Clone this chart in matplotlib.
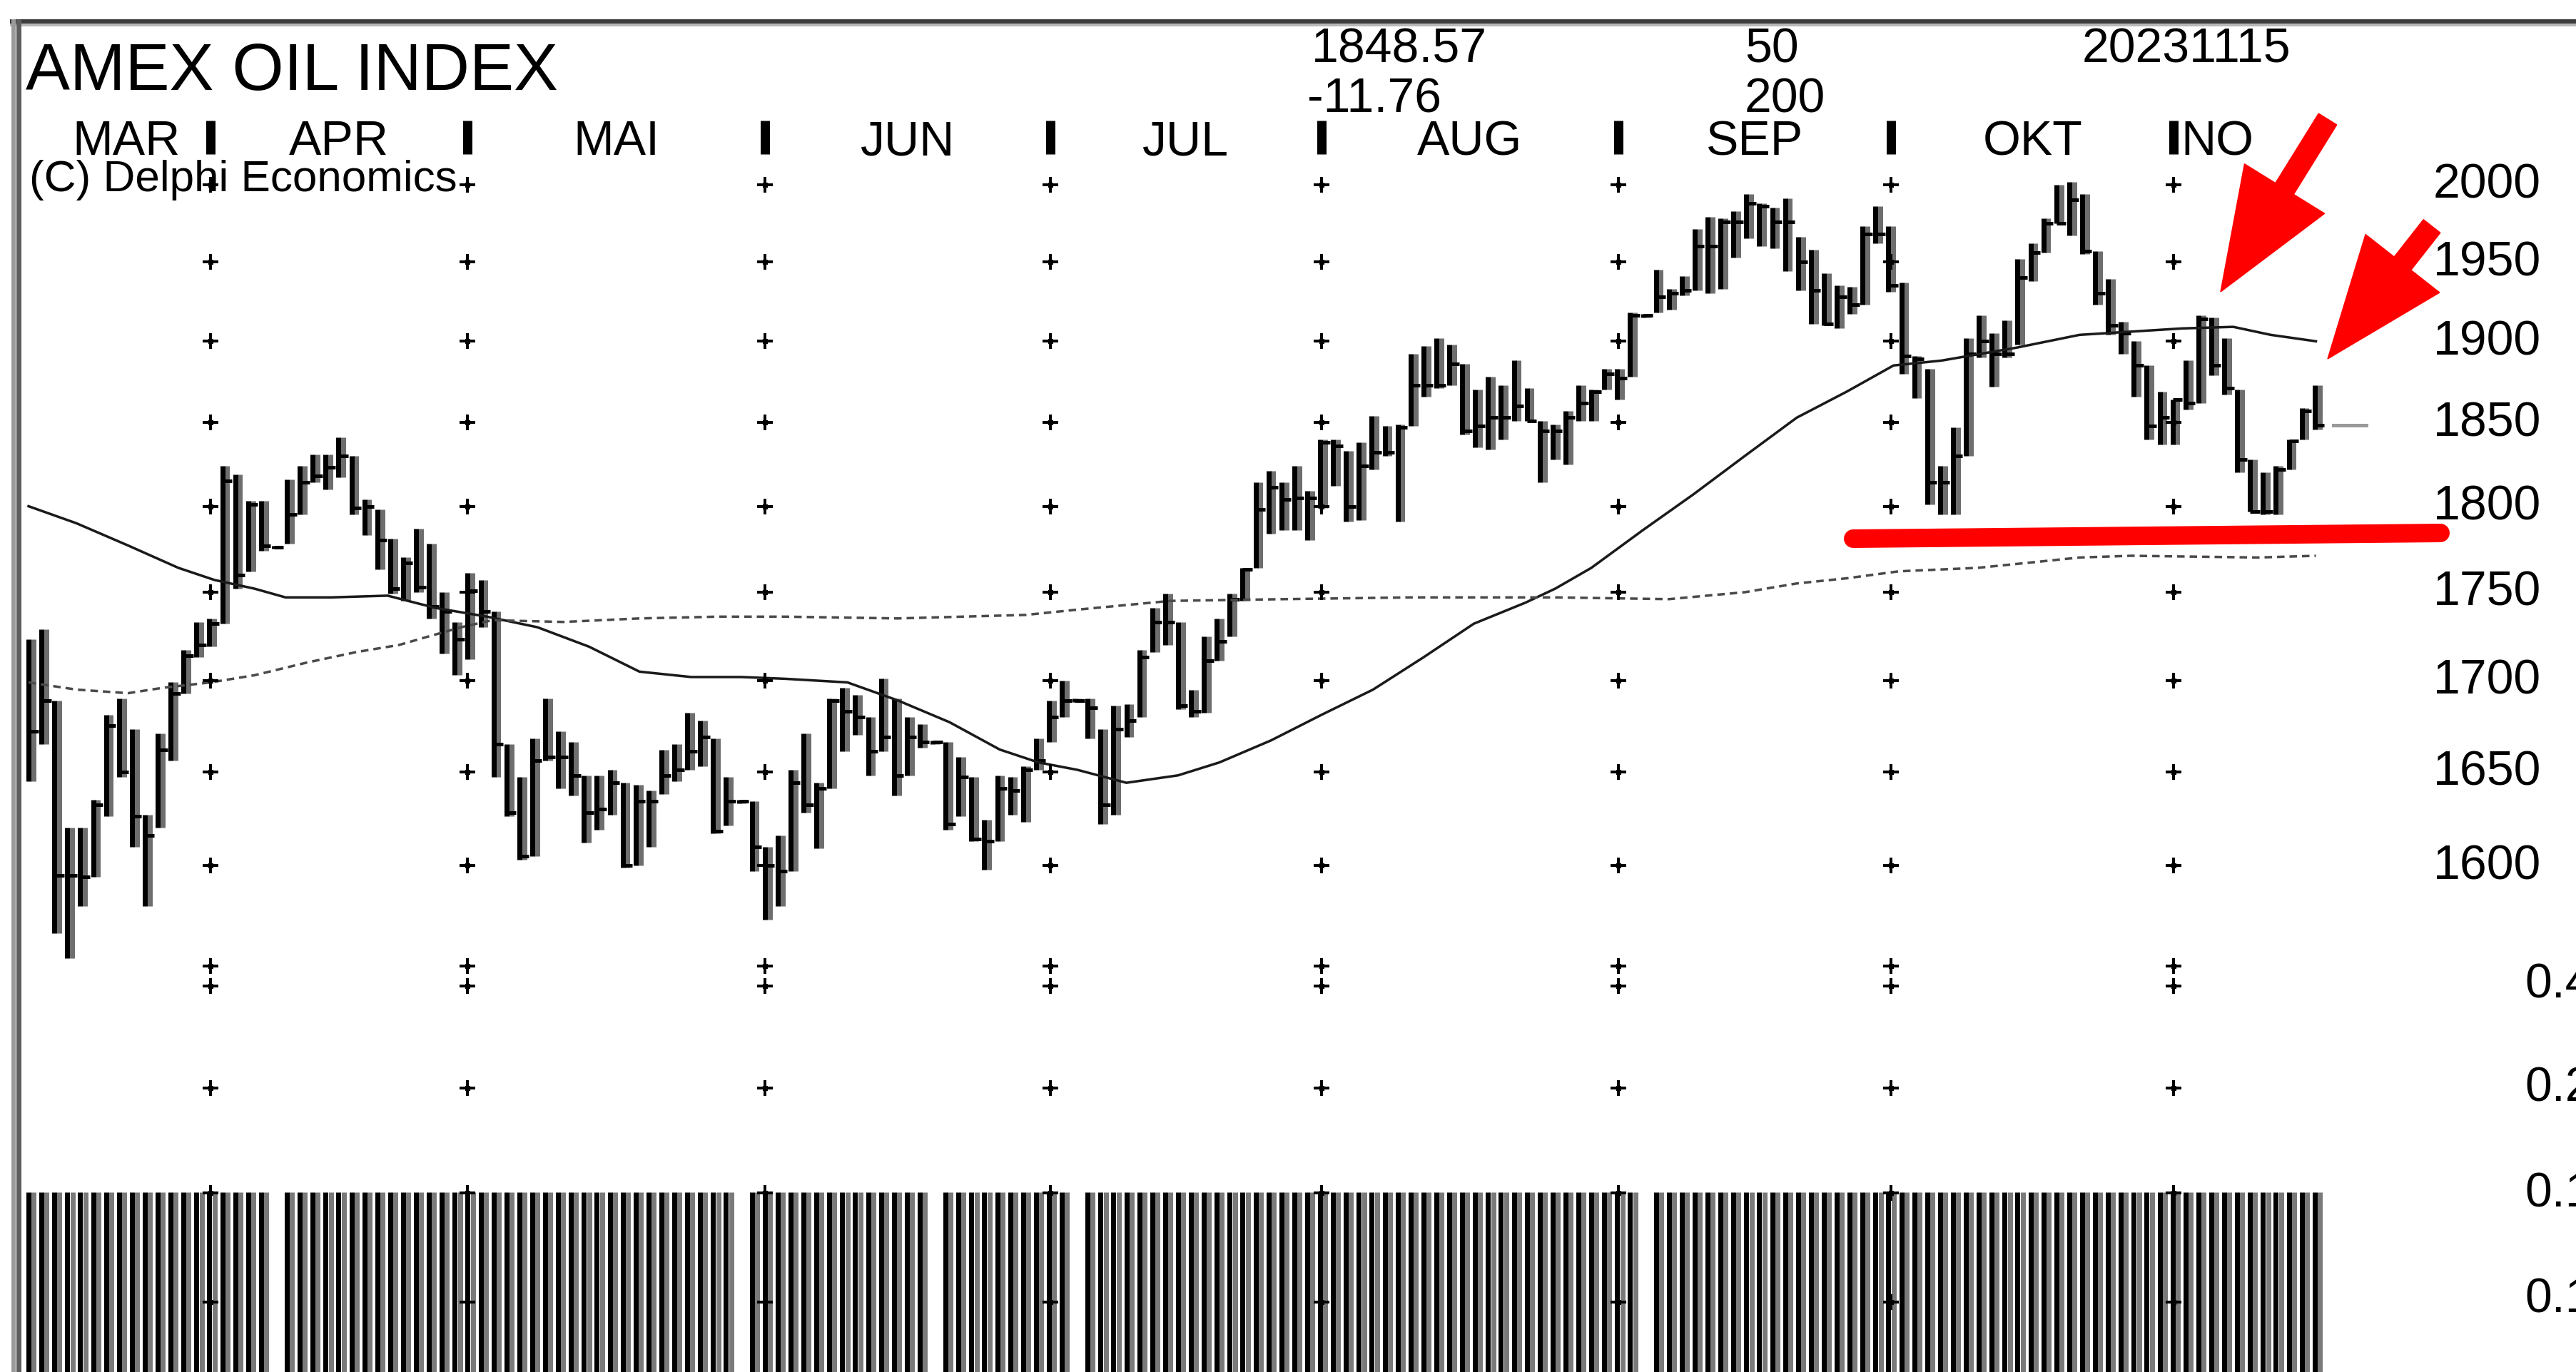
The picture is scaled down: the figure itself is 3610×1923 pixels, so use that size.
import numpy as np
import matplotlib
matplotlib.use("Agg")
import matplotlib.pyplot as plt
from matplotlib.patches import Polygon

plt.rcParams['font.family'] = ['Liberation Sans', 'DejaVu Sans']

# ---------------- data ----------------
title = "AMEX OIL INDEX"
copyright_txt = "(C) Delphi Economics"
last_close = 1848.57
last_change = -11.76
ma_periods = [50, 200]
date_str = "20231115"
months = ["MAR", "APR", "MAI", "JUN", "JUL", "AUG", "SEP", "OKT", "NO"]

highs = [1723,1729,1689,1620,1620,1635,1681,1690,1673,1627,
         1671,1699,1717,1733,1735,1824,1819,1803,1803,1777,
         1816,1824,1831,1831,1841,1830,1804,1798,1781,1770,
         1787,1778,1750,1733,1761,1757,1739,1665,1647,1668,
         1690,1672,1666,1648,1648,1651,1644,1643,1640,1662,
         1665,1682,1678,1668,1647,1635,1634,1610,1616,1651,
         1671,1644,1690,1696,1692,1680,1701,1690,1680,1676,
         1667,1666,1658,1647,1624,1648,1647,1653,1668,1689,
         1700,1690,1690,1673,1686,1687,1717,1741,1749,1733,
         1695,1725,1735,1749,1764,1814,1821,1814,1824,1809,
         1840,1840,1833,1838,1854,1848,1849,1892,1897,1902,
         1898,1886,1870,1878,1873,1888,1871,1851,1849,1857,
         1873,1870,1883,1883,1918,1917,1945,1933,1941,1971,
         1979,1978,1983,1994,1988,1985,1991,1966,1958,1943,
         1935,1934,1973,1986,1973,1937,1891,1883,1824,1847,
         1902,1916,1905,1913,1952,1962,1978,2000,2002,1994,
         1957,1939,1912,1900,1885,1869,1864,1888,1916,1915,
         1902,1870,1828,1820,1824,1840,1859,1873]
lows = [1645,1665,1565,1552,1579,1594,1626,1647,1610,1579,
        1620,1656,1693,1713,1719,1732,1752,1762,1774,1775,
        1778,1795,1814,1810,1817,1795,1783,1763,1749,1745,
        1750,1735,1715,1703,1712,1730,1647,1626,1603,1605,
        1656,1641,1637,1612,1619,1627,1599,1600,1610,1638,
        1645,1651,1653,1617,1621,1633,1597,1572,1579,1597,
        1628,1609,1641,1661,1670,1648,1661,1637,1648,1663,
        1665,1619,1626,1613,1598,1613,1627,1623,1651,1666,
        1680,1688,1668,1622,1627,1669,1680,1716,1720,1684,
        1680,1682,1711,1725,1745,1764,1784,1786,1786,1780,
        1799,1812,1791,1792,1822,1830,1791,1848,1866,1871,
        1873,1843,1835,1834,1840,1851,1851,1814,1828,1825,
        1851,1851,1870,1864,1878,1915,1918,1920,1929,1932,
        1930,1933,1953,1965,1960,1959,1944,1932,1911,1910,
        1908,1917,1923,1962,1931,1880,1865,1801,1795,1795,
        1830,1890,1872,1890,1898,1938,1956,1975,1967,1955,
        1923,1904,1892,1866,1840,1837,1837,1858,1862,1879,
        1867,1820,1797,1795,1795,1822,1840,1846]
closes = [1672,1689,1595,1595,1594,1632,1675,1650,1626,1616,
          1662,1693,1714,1720,1732,1815,1760,1801,1777,1776,
          1795,1814,1818,1823,1830,1799,1800,1780,1752,1767,
          1753,1742,1739,1723,1751,1739,1665,1628,1605,1656,
          1658,1658,1648,1628,1630,1644,1600,1634,1634,1648,
          1651,1661,1669,1618,1634,1634,1610,1600,1597,1644,
          1632,1641,1689,1683,1680,1661,1669,1648,1669,1666,
          1666,1622,1647,1614,1613,1641,1640,1651,1656,1680,
          1689,1689,1685,1632,1673,1678,1713,1733,1733,1686,
          1683,1711,1722,1746,1763,1798,1811,1804,1805,1805,
          1838,1836,1800,1824,1832,1832,1847,1873,1873,1873,
          1886,1845,1848,1853,1853,1860,1851,1845,1845,1853,
          1862,1869,1880,1877,1916,1916,1928,1930,1932,1960,
          1960,1976,1976,1988,1986,1976,1976,1950,1932,1911,
          1928,1923,1968,1968,1935,1891,1889,1814,1814,1830,
          1892,1900,1892,1892,1940,1956,1975,1975,1990,1957,
          1930,1910,1905,1885,1848,1853,1864,1862,1914,1885,
          1871,1828,1797,1797,1822,1839,1857,1848.57]

# moving averages read at sample bar positions
ma50_idx = [0, 3.7, 7.7, 11.6, 14.4, 17.5, 19.9, 23.4, 27.8, 31.5, 35.5, 39.4, 43.4,
            47.3, 51.3, 55.2, 58.6, 63.4, 67.3, 71.3, 75.2, 78.2, 81.2, 85.0, 89.0,
            92.2, 96.2, 100.1, 104.1, 108.0, 111.9, 115.9, 118.2, 121.0, 125.0, 128.9,
            132.9, 136.9, 140.8, 144.4, 148.1, 153.9, 158.8, 166.7, 170.7, 173.6, 177.1]
ma50_val = [1800, 1790, 1777, 1764, 1757, 1752, 1747, 1747, 1748, 1741, 1736, 1730, 1719,
            1705, 1702, 1702, 1701, 1699, 1689, 1677, 1662, 1655, 1651, 1644, 1648,
            1655, 1667, 1681, 1695, 1713, 1732, 1744, 1752, 1764, 1786, 1807,
            1830, 1853, 1869, 1885, 1888, 1896, 1904, 1908, 1909, 1904, 1900]
ma200_idx = [0, 3.7, 7.7, 10.4, 14.1, 17.5, 21.5, 25.4, 28.7, 30.6, 33.5, 35.9, 41.4,
             47.3, 53.3, 58.6, 67.3, 77.2, 81.2, 88.4, 97.2, 107.0, 118.2, 127.0,
             132.9, 136.9, 140.8, 144.8, 150.9, 154.9, 158.8, 162.8, 172.6, 177.1]
ma200_val = [1699, 1695, 1693, 1696, 1699, 1703, 1710, 1716, 1720, 1724, 1730, 1734, 1733,
             1735, 1736, 1736, 1735, 1737, 1740, 1745, 1746, 1747, 1747, 1746,
             1750, 1755, 1758, 1762, 1764, 1767, 1770, 1771, 1770, 1771]

month_sep = [14.1, 34.0, 57.0, 79.1, 100.1, 123.1, 144.2, 166.1]   # bar-index positions
price_levels = [1600, 1650, 1700, 1750, 1800, 1850, 1900, 1950, 2000]
lower_labels = ["0.4", "0.2", "0.1", "0.1"]
holiday_gaps = [19, 55, 70, 81, 125]  # bars with no lower-panel stripe

# ---------------- layout ----------------
W, H, DPI = 3610, 1924, 100
X0, DX = 40.0, 18.1          # pixel of first bar, pixel spacing per bar
def px(v):                    # pixels -> points
    return v * 72.0 / DPI
def p_at(y):                  # price at pixel row y (log scale)
    return 2000.0 * np.exp(-(y - 260.0) / 4276.0)
def rect(x0, y0, x1, y1):
    return [x0 / W, 1 - y1 / H, (x1 - x0) / W, (y1 - y0) / H]

xlim = (-X0 / DX, (W - X0) / DX)
n = len(closes)
idx = np.arange(n)

fig = plt.figure(figsize=(W / DPI, H / DPI), dpi=DPI)
fig.patch.set_facecolor("white")

# price panel
ax = fig.add_axes(rect(0, 200, W, 1420))
ax.set_yscale("log")
ax.set_xlim(*xlim)
ax.set_ylim(p_at(1420), p_at(200))
ax.axis("off")

ax.vlines(idx + 0.38, lows, highs, color="#6e6e6e", lw=px(7), zorder=2)
ax.vlines(idx, lows, highs, color="black", lw=px(7), zorder=3)
ax.hlines(closes, idx, idx + 0.75, color="black", lw=px(5), zorder=3)

ax.plot(ma50_idx, ma50_val, color="#1a1a1a", lw=px(3.5), zorder=4)
ax.plot(ma200_idx, ma200_val, color="#4a4a4a", lw=px(3.5), dashes=(3, 2), zorder=4)

# last price marker
ax.plot([n + 0.45, n + 3.0], [last_close, last_close], color="#9a9a9a", lw=px(5), zorder=4)

# grid crosses
gx = np.repeat(month_sep, len(price_levels))
gy = np.tile(price_levels, len(month_sep))
ax.plot(gx, gy, ls="none", marker="+", ms=px(22), mew=px(4), color="black", zorder=5)
ax.plot(gx, gy, ls="none", marker="s", ms=px(7), mew=0, color="black", zorder=5)

for lv in price_levels:
    ax.text((3410 - X0) / DX, lv, str(lv), ha="left", va="center",
            fontsize=px(68), color="black", clip_on=False)

# overlay: x in bar index, y in pixels
ov = fig.add_axes([0, 0, 1, 1])
ov.set_xlim(*xlim)
ov.set_ylim(H, 0)
ov.axis("off")
ov.patch.set_alpha(0)

# month header
ov.vlines(month_sep, 170, 217, color="black", lw=px(13))
label_x = [(177 - X0) / DX]
label_x += [(month_sep[i] + month_sep[i + 1]) / 2 for i in range(len(month_sep) - 1)]
label_x += [(3107 - X0) / DX]
for m, lx in zip(months, label_x):
    ov.text(lx, 217, m, ha="center", va="baseline", fontsize=px(68), color="black")

# lower panel stripes
present = np.array([i for i in range(n) if i not in holiday_gaps])
ov.vlines(present + 0.4, 1672, H, color="#7a7a7a", lw=px(7))
ov.vlines(present, 1672, H, color="black", lw=px(7))

lower_rows = [1355, 1383, 1526, 1673, 1826]
lx2 = np.repeat(month_sep, len(lower_rows))
ly2 = np.tile(lower_rows, len(month_sep))
ov.plot(lx2, ly2, ls="none", marker="+", ms=px(22), mew=px(4), color="black")
ov.plot(lx2, ly2, ls="none", marker="s", ms=px(7), mew=0, color="black")
for t, yy in zip(lower_labels, [1381, 1526, 1674, 1822]):
    ov.text((3538 - X0) / DX, yy, t, ha="left", va="center", fontsize=px(68), color="black")

# pixel overlay for header texts, frame and annotations
pix = fig.add_axes([0, 0, 1, 1])
pix.set_xlim(0, W)
pix.set_ylim(H, 0)
pix.axis("off")
pix.patch.set_alpha(0)

pix.plot([14, W], [30.5, 30.5], color="#3c3c3c", lw=px(6), solid_capstyle="butt")
pix.plot([14, W], [35.5, 35.5], color="#b8b8b8", lw=px(4), solid_capstyle="butt")
pix.plot([19, 19], [28, H], color="#9a9a9a", lw=px(6), solid_capstyle="butt")
pix.plot([25.5, 25.5], [28, H], color="#5e5e5e", lw=px(7), solid_capstyle="butt")

pix.text(36, 126, title, ha="left", va="baseline", fontsize=px(93), color="black")
pix.text(41, 268, copyright_txt, ha="left", va="baseline", fontsize=px(62), color="black")
pix.text(1838, 88, f"{last_close:.2f}", ha="left", va="baseline", fontsize=px(68))
pix.text(1832, 157, f"{last_change:.2f}", ha="left", va="baseline", fontsize=px(68))
pix.text(2445, 88, str(ma_periods[0]), ha="left", va="baseline", fontsize=px(68))
pix.text(2445, 157, str(ma_periods[1]), ha="left", va="baseline", fontsize=px(68))
pix.text(2918, 88, date_str, ha="left", va="baseline", fontsize=px(68))

# red support line
pix.plot([2597, 3420], [756, 748], color="#ff0000", lw=px(26), solid_capstyle="round", zorder=6)

def arrow_poly(tail, tip, shaft_w, head_w, head_len):
    t = np.array(tail, float); p = np.array(tip, float)
    d = p - t; L = np.hypot(*d); u = d / L; nn = np.array([-u[1], u[0]])
    base = p - u * head_len
    return [t + nn * shaft_w / 2, base + nn * shaft_w / 2, base + nn * head_w / 2, p,
            base - nn * head_w / 2, base - nn * shaft_w / 2, t - nn * shaft_w / 2]

for tail, tip in [((3262, 168), (3112, 410)), ((3408, 318), (3262, 504))]:
    pix.add_patch(Polygon(arrow_poly(tail, tip, 30, 132, 170), closed=True,
                          facecolor="#ff0000", edgecolor="#ff0000", lw=1, zorder=7))

fig.savefig("out.png", dpi=DPI, facecolor="white")
